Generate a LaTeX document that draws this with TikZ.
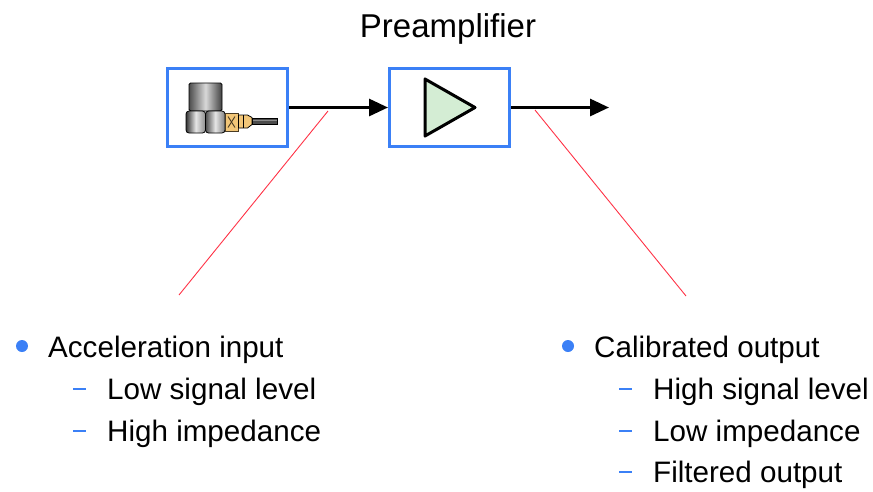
\documentclass[tikz,border=0pt]{standalone}
\usepackage{fontspec}
\setmainfont{Liberation Sans}
\usetikzlibrary{arrows.meta}

\definecolor{boxblue}{RGB}{59,128,246}
\definecolor{ampgreen}{RGB}{212,237,212}
\definecolor{leadred}{RGB}{255,50,70}
\definecolor{brass}{RGB}{242,198,120}

\begin{document}
\begin{tikzpicture}[x=1pt,y=-1pt,
    block/.style={draw=boxblue, line width=3pt, minimum width=120pt, minimum height=78pt, inner sep=0pt},
    sig/.style={line width=3pt, -{Triangle[length=19pt,width=17pt]}},
    lead/.style={leadred, line width=0.9pt},
    txt/.style={anchor=base west, inner sep=0pt, font=\fontsize{29.6}{34}\selectfont},
    dot/.style={circle, fill=boxblue, inner sep=0pt, minimum size=12pt},
    subdash/.style={fill=boxblue, inner sep=0pt, minimum width=13pt, minimum height=2.5pt}]
        \useasboundingbox (0,0) rectangle (873,491);

        % Blocks
        \node[txt, anchor=base, font=\fontsize{33}{38}\selectfont] (title) at (448,37) {Preamplifier};
        \node[block] (sensor) at (227.5,107.5) {};
        \node[block] (amp) at (449.5,107.5) {};
        \coordinate (out) at (609,107.5);
        \draw[sig] (sensor.east) -- (amp.west);
        \draw[sig] (amp.east) -- (out);

        % Accelerometer
        \begin{scope}[shift={(sensor.center)}]
            \shade[left color=black!70, right color=black!75, middle color=white!85!black, draw=black, line width=0.8pt, rounded corners=1.5pt]
                (-38.5,3.5) -- (-38.5,-24.5) -- (-5.5,-24.5) -- (-5.5,3.5) -- cycle;
            \shade[left color=black!80, right color=black!45, middle color=white!90!black, draw=black, line width=0.8pt, rounded corners=3pt]
                (-41.5,3.5) rectangle (-22,25.5);
            \shade[left color=black!70, right color=black!50, middle color=white!90!black, draw=black, line width=0.8pt, rounded corners=3pt]
                (-22,3.5) rectangle (-2.5,25.5);
            \filldraw[fill=brass, draw=black!70!brass, line width=0.8pt] (-2.5,5.5) rectangle (10.5,23.5);
            \draw[black!70!brass, line width=0.9pt] (0.5,9) -- (7.5,20) (0.5,20) -- (7.5,9);
            \filldraw[fill=brass, draw=black, line width=0.8pt] (11,7.5) -- (20,7.5) -- (24.5,10) -- (24.5,17) -- (20,20.5) -- (11,20.5) -- cycle;
            \draw[black, line width=0.7pt] (16,7.5) -- (16,20.5);
            \filldraw[fill=black!70, draw=black, line width=0.6pt] (24.5,10.5) rectangle (49.5,16.5);
            \draw[black!45, line width=0.8pt] (25,12.5) -- (49,12.5);
        \end{scope}

        % Amplifier symbol
        \begin{scope}[shift={(amp.center)}]
            \filldraw[fill=ampgreen, draw=black, line width=3pt, line join=round]
                (-24.5,-28.5) -- (25.5,0) -- (-24.5,28.5) -- cycle;
        \end{scope}

        % Leads to the notes
        \coordinate (tapin) at (328,111);
        \coordinate (tapout) at (535,110);
        \coordinate (notein) at (179,295);
        \coordinate (noteout) at (686,296);
        \draw[lead] (tapin) -- (notein);
        \draw[lead] (tapout) -- (noteout);

        % Input notes
        \node[dot] (inbullet) at (22,346) {};
        \node[txt] (inhead) at (48,357) {Acceleration input};
        \node[subdash] (indash1) at (79.5,389) {};
        \node[txt] (inlow) at (107,399) {Low signal level};
        \node[subdash] (indash2) at (79.5,431) {};
        \node[txt] (inhigh) at (107,441) {High impedance};

        % Output notes
        \node[dot] (outbullet) at (568,346) {};
        \node[txt] (outhead) at (594,357) {Calibrated output};
        \node[subdash] (outdash1) at (625.5,389) {};
        \node[txt] (outhigh) at (653,399) {High signal level};
        \node[subdash] (outdash2) at (625.5,431) {};
        \node[txt] (outlow) at (653,441) {Low impedance};
        \node[subdash] (outdash3) at (625.5,472) {};
        \node[txt] (outfilt) at (653,482) {Filtered output};
    \end{tikzpicture}
\end{document}
